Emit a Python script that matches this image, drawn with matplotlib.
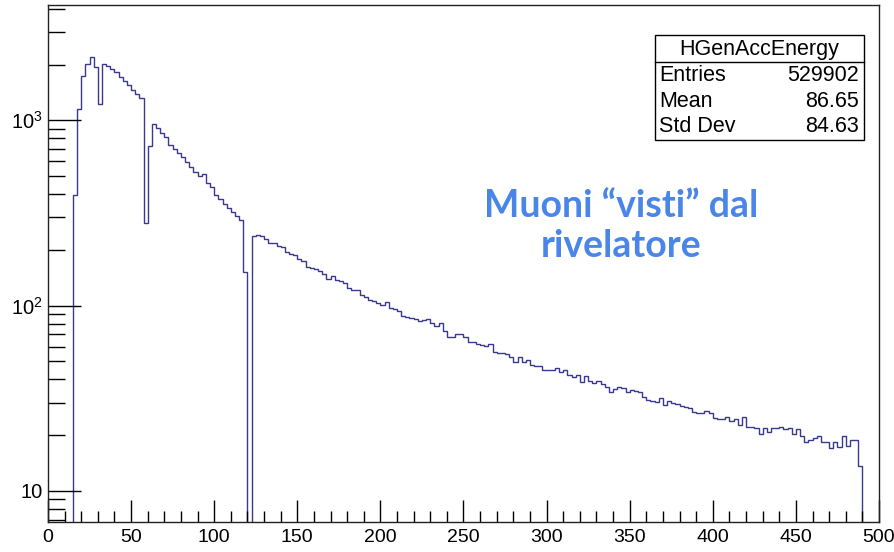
import numpy as np
import matplotlib
matplotlib.use('Agg')
from matplotlib import pyplot as plt
from matplotlib.ticker import MultipleLocator, LogLocator, NullFormatter
from matplotlib.patches import Rectangle
from matplotlib.lines import Line2D

# histogram HGenAccEnergy, 200 bins of 2.5 from 0 to 500
bin_width = 2.5
x_lo, x_hi = 0, 500

# bins 15 .. 117.5
counts_low = [395, 1151, 1727, 2005, 2203, 1946, 1220, 2005, 1970, 1900,
              1828, 1719, 1630, 1545, 1458, 1387, 1315, 280, 729, 950,
              905, 858, 816, 736, 700, 669, 636, 593, 562, 526,
              500, 513, 460, 435, 395, 375, 353, 335, 320, 305,
              290, 152]
# bins 122.5 .. 487.5
counts_high = [238, 242, 238, 230, 218, 217, 210, 208, 194, 191,
               187, 179, 174, 162, 160, 158, 154, 149, 140, 144,
               137, 135, 132, 124,
               121, 121, 114, 112, 107, 106, 103, 101, 104, 97.5,
               95.5, 93.5, 88, 87, 86, 84.7, 82.6, 83.6, 84.3, 80.2,
               77.6, 80.2, 72.9,
               67.9, 67.9, 70, 70, 67.9, 63.4, 63.9, 62.1, 61.2, 60.5,
               62.1, 56.4, 55.7, 55.7, 54.6, 53, 49.8, 53, 49.8, 50.8,
               47.8, 47.2, 47.2, 44.9,
               44.9, 44.9, 46.2, 43.9, 44.9, 42.2, 41.3, 42.2, 38.5, 41.7,
               39.2, 38.4, 39.4, 37.6, 36.5, 34.3, 35.5, 36.5, 36.1, 34,
               35.1, 34.6, 34, 32.2, 31,
               30.6, 30.3, 31.6, 29.1, 30.7, 29.9, 29.3, 28.7, 28.5, 27.9,
               26.8, 26.4, 26.2, 27, 26.2, 24.9, 24.6, 24.4, 25.1, 23.9,
               24.6, 22.7, 25.1,
               22.2, 22.2, 21.8, 20.3, 22, 20.9, 22, 21.8, 22.2, 21.6,
               22, 20.2, 21.5, 19.8, 18.4, 18.8, 19.2, 19.9, 18.4, 18.4,
               17, 18.4, 17.3, 19.9, 17.5, 18.8, 18.8, 13.6]

counts = np.array([0] * 6 + counts_low + [0] + counts_high + [0] * 4, dtype=float)
edges = np.arange(x_lo, x_hi + bin_width / 2, bin_width)

stat_names = ['Entries', 'Mean', 'Std Dev']
stat_values = ['529902', '86.65', '84.63']
hist_name = 'HGenAccEnergy'
note = 'Muoni \u201cvisti\u201d dal\nrivelatore'

plt.rcParams['font.family'] = 'Liberation Sans'
plt.rcParams['mathtext.fontset'] = 'custom'
plt.rcParams['mathtext.rm'] = 'Liberation Sans'

W, H = 895, 552
fig = plt.figure(figsize=(W / 100, H / 100), dpi=100)
ax = fig.add_axes([48 / W, 1 - 522 / H, (879 - 48) / W, (522 - 5) / H])

y_lo, y_hi = 6.8, 4190
# zero bins are pushed below the frame, like ROOT does on a log axis
ax.stairs(np.where(counts > 0, counts, 1e-2), edges, baseline=None,
          color='#38388f', lw=1)
ax.set_yscale('log')
ax.set_xlim(x_lo, x_hi)
ax.set_ylim(y_lo, y_hi)

ax.set_xticks(np.arange(0, 501, 50))
ax.xaxis.set_minor_locator(MultipleLocator(10))
ax.set_yticks([10, 100, 1000])
ax.set_yticklabels(['10', r'$\mathregular{10^{2}}$', r'$\mathregular{10^{3}}$'])
ax.yaxis.set_minor_locator(LogLocator(base=10, subs=np.arange(2, 10)))
ax.yaxis.set_minor_formatter(NullFormatter())

ax.tick_params(axis='x', which='major', direction='in', length=16, width=1,
               labelsize=14, pad=5, colors='black')
ax.tick_params(axis='x', which='minor', direction='in', length=8, width=1)
ax.tick_params(axis='y', which='major', direction='in', length=24, width=1,
               labelsize=14.5, pad=4)
ax.tick_params(axis='y', which='minor', direction='in', length=12, width=1)
for s in ax.spines.values():
    s.set_linewidth(1)
    s.set_color('#222222')

# stats box
bx0, by0, bx1, by1 = 655, 35, 864, 140
fig.patches.append(Rectangle((bx0 / W, 1 - by1 / H), (bx1 - bx0) / W, (by1 - by0) / H,
                             transform=fig.transFigure, fill=True, facecolor='white',
                             edgecolor='black', lw=1, zorder=5))
fig.lines.append(Line2D([bx0 / W, bx1 / W], [1 - 62 / H, 1 - 62 / H],
                        transform=fig.transFigure, color='black', lw=1, zorder=6))
fig.text((bx0 + bx1) / 2 / W, 1 - 49 / H, hist_name, ha='center', va='center',
         fontsize=15.5, zorder=7)
for i, (n, v) in enumerate(zip(stat_names, stat_values)):
    yc = 1 - (76 + 25.5 * i) / H
    fig.text(659 / W, yc, n, ha='left', va='center', fontsize=15.5, zorder=7)
    fig.text(859 / W, yc, v, ha='right', va='center', fontsize=15.5, zorder=7)

fig.text(621 / W, 1 - 226 / H, note, ha='center', va='center', family='Lato',
         fontweight='bold', fontsize=27, color='#4a86e8', linespacing=1.22)

plt.savefig('out.png', dpi=100)
